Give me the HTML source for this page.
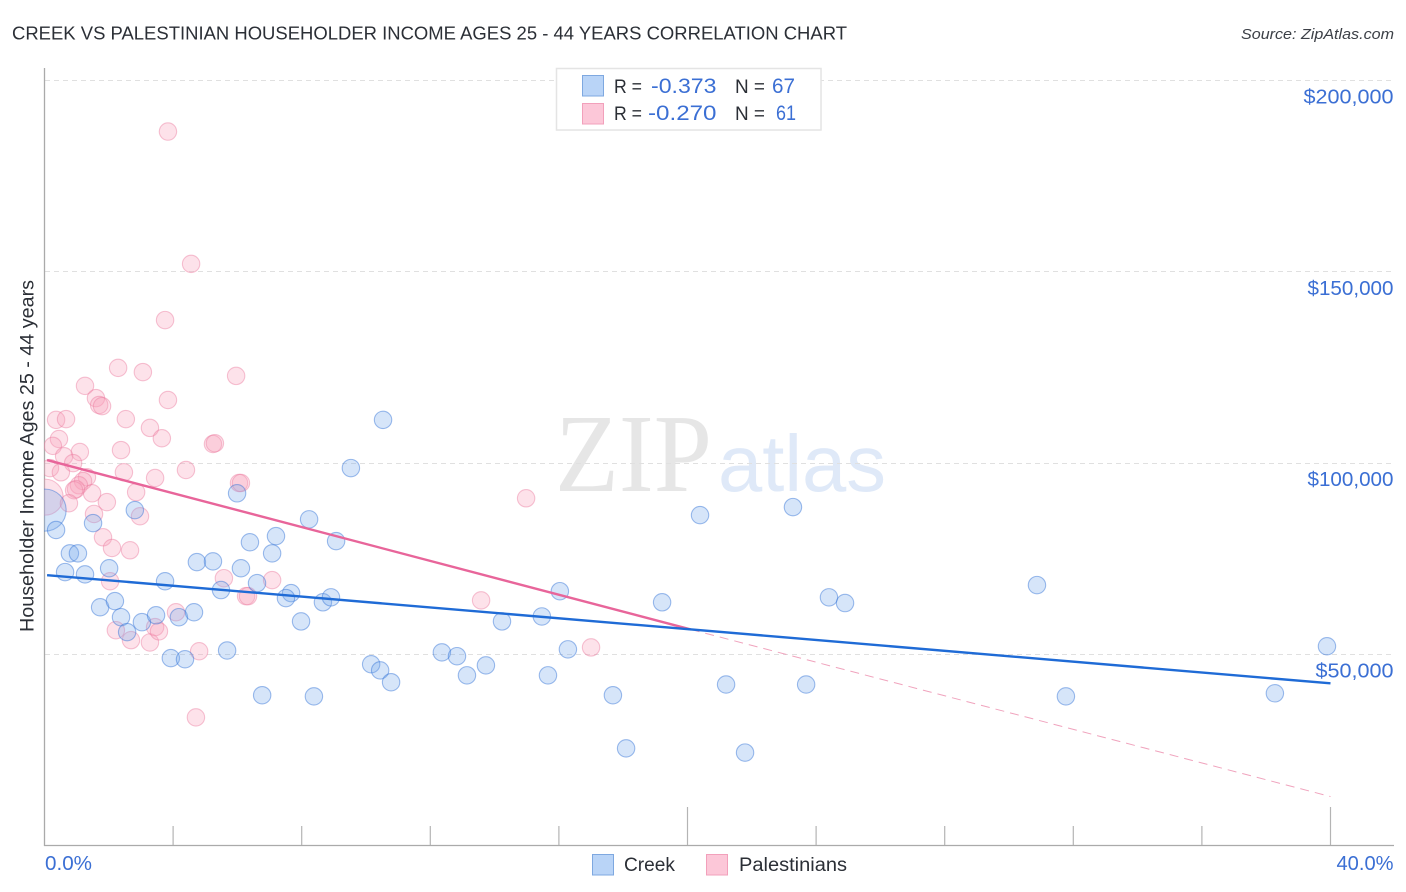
<!DOCTYPE html>
<html lang="en">
<head>
<meta charset="utf-8">
<title>Creek vs Palestinian Householder Income Chart</title>
<style>
html,body{margin:0;padding:0;background:#fff;}
svg{display:block;font-family:"Liberation Sans",sans-serif;}
</style>
</head>
<body>
<svg id="chart" xmlns="http://www.w3.org/2000/svg" width="1406" height="892" viewBox="0 0 1406 892">
  <defs>
    <clipPath id="plot-clip"><rect x="44" y="60" width="1350" height="785"/></clipPath>
  </defs>
  <rect x="0" y="0" width="1406" height="892" fill="#ffffff"/>
  <text x="12" y="39.5" font-size="18.5" fill="#2b2f36" textLength="835" lengthAdjust="spacingAndGlyphs">CREEK VS PALESTINIAN HOUSEHOLDER INCOME AGES 25 - 44 YEARS CORRELATION CHART</text>
  <text x="1394" y="39" font-size="15" font-style="italic" fill="#3c4047" text-anchor="end" textLength="153" lengthAdjust="spacingAndGlyphs">Source: ZipAtlas.com</text>

  <g>
    <text x="555" y="491" font-family="'Liberation Serif',serif" font-size="111" fill="#e6e6e6" textLength="157" lengthAdjust="spacingAndGlyphs">ZIP</text>
    <text x="718" y="491" font-size="80" fill="#dfe9f8" textLength="168" lengthAdjust="spacingAndGlyphs">atlas</text>
  </g>

  <g id="grid"></g>
  <g id="axes"></g>
  <g id="marks" clip-path="url(#plot-clip)"></g>
  <g id="trends"></g>
  <g id="ylabels"></g>

  <text transform="translate(33.5,456) rotate(-90)" font-size="19" fill="#2b2f36" text-anchor="middle" textLength="352" lengthAdjust="spacingAndGlyphs">Householder Income Ages 25 - 44 years</text>
  <text x="45" y="870" font-size="20" fill="#3b6fd4" textLength="47" lengthAdjust="spacingAndGlyphs">0.0%</text>
  <text x="1393.5" y="870" font-size="20" fill="#3b6fd4" text-anchor="end" textLength="57" lengthAdjust="spacingAndGlyphs">40.0%</text>

  <g>
    <rect x="556.5" y="68.5" width="264.5" height="61.5" fill="#ffffff" stroke="#e4e4e4" stroke-width="1.5"/>
    <rect x="582.5" y="75.5" width="21" height="20.5" fill="#b9d4f7" stroke="#7ea8e0" stroke-width="1"/>
    <rect x="582.5" y="103.5" width="21" height="20.5" fill="#fcc7d8" stroke="#f2a0bb" stroke-width="1"/>
    <text x="614" y="93" font-size="19" fill="#2b2f36" textLength="28" lengthAdjust="spacingAndGlyphs">R =</text>
    <text x="651" y="93" font-size="21" fill="#3b6fd4" textLength="65.5" lengthAdjust="spacingAndGlyphs">-0.373</text>
    <text x="735" y="93" font-size="19" fill="#2b2f36" textLength="30" lengthAdjust="spacingAndGlyphs">N =</text>
    <text x="772" y="93" font-size="21" fill="#3b6fd4" textLength="23" lengthAdjust="spacingAndGlyphs">67</text>
    <text x="614" y="120" font-size="19" fill="#2b2f36" textLength="28" lengthAdjust="spacingAndGlyphs">R =</text>
    <text x="648" y="120" font-size="21" fill="#3b6fd4" textLength="68.5" lengthAdjust="spacingAndGlyphs">-0.270</text>
    <text x="735" y="120" font-size="19" fill="#2b2f36" textLength="30" lengthAdjust="spacingAndGlyphs">N =</text>
    <text x="776" y="120" font-size="21" fill="#3b6fd4" textLength="20" lengthAdjust="spacingAndGlyphs">61</text>
  </g>

  <g>
    <rect x="592.5" y="854.5" width="21" height="20.5" fill="#b9d4f7" stroke="#7ea8e0" stroke-width="1"/>
    <text x="624" y="871" font-size="19" fill="#2b2f36" textLength="51" lengthAdjust="spacingAndGlyphs">Creek</text>
    <rect x="706.5" y="854.5" width="21" height="20.5" fill="#fcc7d8" stroke="#f2a0bb" stroke-width="1"/>
    <text x="739" y="871" font-size="19" fill="#2b2f36" textLength="108" lengthAdjust="spacingAndGlyphs">Palestinians</text>
  </g>
</svg>
<script>
const yTicks = [200000, 150000, 100000, 50000];
const yTickLabels = ["$200,000", "$150,000", "$100,000", "$50,000"];
const xTicks = [0, 4, 8, 12, 16, 20, 24, 28, 32, 36, 40];
const xMajorTicks = [20, 40];

const creekX = [0.02,0.36,0.79,1.04,0.64,1.26,2.01,1.51,2.81,3.75,1.73,2.19,2.38,2.57,3.03,3.47,4.18,4.65,4.74,5.24,5.49,6.11,6.39,7.2,7.08,6.61,7.67,7.51,8.23,9.07,9.53,10.53,5.99,7.98,8.66,8.91,3.93,4.37,5.68,6.77,8.38,10.16,10.44,10.78,12.36,12.83,13.14,13.73,14.23,15.47,16.03,16.28,15.66,17.68,18.09,19.21,20.39,21.2,21.79,23.28,23.69,24.4,24.9,30.87,31.77,38.27,39.89];
const creekY = [87.7,82.5,76.4,76.4,71.5,70.9,72.5,84.3,87.7,69.1,62.3,63.9,59.7,55.8,58.4,60.2,59.7,61,74.1,74.3,66.8,72.5,79.3,80.9,76.4,68.6,66,64.7,85.3,79.6,98.7,111.3,92.1,58.6,63.6,64.9,49,48.7,51,39.3,39,47.4,45.8,42.7,50.5,49.5,44.5,47.1,58.6,59.9,66.5,51.3,44.5,39.3,25.4,63.6,86.4,42.1,24.3,88.5,42.1,64.9,63.4,68.1,39,39.8,52.1];
const palestiniansX = [3.84,4.56,3.75,2.29,3.06,5.96,1.26,1.6,1.7,1.79,3.84,0.36,0.67,2.53,3.28,3.65,0.45,0.26,5.24,5.3,2.38,1.1,0.61,0.89,0.17,0.51,2.47,3.44,4.4,1.32,1.2,1.07,0.98,0.92,1.48,2.85,6.05,6.11,0.02,0.76,1.94,1.54,2.97,1.82,2.1,2.66,2.04,5.58,7.08,4.09,2.22,2.69,3.28,3.44,3.56,4.81,6.27,6.33,13.58,17,14.98,4.71];
const palestiniansY = [186.7,152.1,137.4,124.9,123.8,122.8,120.2,117,115.2,114.9,116.5,111.3,111.5,111.5,109.2,106.5,106.3,104.5,105,105.2,103.4,102.9,101.8,100,98.7,97.6,97.6,96.1,98.2,96.3,95.3,94.2,93.2,92.9,92.1,92.4,94.8,94.8,91.1,89.5,89.8,86.7,86.1,80.6,77.8,77.2,69.1,69.9,69.4,61,56.3,53.7,53.1,57.1,56,50.8,65.2,65.2,64.1,51.8,90.8,33.5];

const creekTrendX = [0.08, 40];
const creekTrendY = [70.7, 42.4];
const palestiniansTrendX = [0.08, 20.1];
const palestiniansTrendY = [100.8, 56.5];
const palestiniansDashX = [20.1, 40];
const palestiniansDashY = [56.5, 12.8];

const NS = "http://www.w3.org/2000/svg";
const xScale = function (pct) { return 44.5 + pct * 32.15; };
const yScale = function (usd) { return 654.3 - (usd - 50000) * 191.2 / 50000; };
const yK = function (k) { return yScale(k * 1000); };

function make(tag, attrs, parent) {
  const el = document.createElementNS(NS, tag);
  Object.keys(attrs).forEach(function (k) { el.setAttribute(k, attrs[k]); });
  parent.appendChild(el);
  return el;
}

const grid = document.getElementById("grid");
const axes = document.getElementById("axes");
const marks = document.getElementById("marks");
const trends = document.getElementById("trends");
const ylabels = document.getElementById("ylabels");

yTicks.forEach(function (t, i) {
  const gy = Math.floor(yScale(t)) + 0.5;
  const line = make("line", {x1: 45, x2: 1394, y1: gy, y2: gy, stroke: "#e0e0e0", "stroke-width": 1, "stroke-dasharray": "5 4"}, grid);
  
  
  const text = yTickLabels[i];
  const digits = text.replace(/[^0-9]/g, "").length;
  const ones = text.replace(/[^1]/g, "").length;
  const label = make("text", {x: 1393.5, y: yScale(t) + 23, "font-size": 20.5, fill: "#3b6fd4", "text-anchor": "end", textLength: 18 + 12 * digits - 4 * ones, lengthAdjust: "spacingAndGlyphs"}, ylabels);
  label.textContent = text;
  
  
});

const yAxis = make("line", {x1: 44.5, x2: 44.5, y1: 68, y2: 846, stroke: "#aaaaaa", "stroke-width": 1.3}, axes);


const xAxis = make("line", {x1: 44, x2: 1394, y1: 845.5, y2: 845.5, stroke: "#aaaaaa", "stroke-width": 1.3}, axes);



xTicks.forEach(function (t) {
  if (t === 0) return;
  const major = xMajorTicks.indexOf(t) >= 0;
  const tick = make("line", {x1: xScale(t), x2: xScale(t), y1: major ? 807 : 826, y2: 845, stroke: "#b4b4b4", "stroke-width": 1.2}, axes);
  
  
});

function drawSeries(xs, ys, fill, stroke, name, edgeRadius) {
  xs.forEach(function (x, i) {
    const r = x < 0.1 ? edgeRadius : 8.7;
    const c = make("circle", {cx: xScale(x), cy: yK(ys[i]), r: r, fill: fill, stroke: stroke, "stroke-width": 1.1}, marks);
    
    
  });
}
drawSeries(palestiniansX, palestiniansY, "rgba(247,160,185,0.3)", "rgba(236,125,160,0.45)", "palestinians-point", 18);
drawSeries(creekX, creekY, "rgba(120,170,235,0.3)", "rgba(50,115,215,0.47)", "creek-point", 21);

const dash = make("line", {x1: xScale(palestiniansDashX[0]), y1: yK(palestiniansDashY[0]), x2: xScale(palestiniansDashX[1]), y2: yK(palestiniansDashY[1]), stroke: "#f0a3bd", "stroke-width": 1, "stroke-dasharray": "9 6"}, trends);


const pinkLine = make("line", {x1: xScale(palestiniansTrendX[0]), y1: yK(palestiniansTrendY[0]), x2: xScale(palestiniansTrendX[1]), y2: yK(palestiniansTrendY[1]), stroke: "#e8659a", "stroke-width": 2.4}, trends);


const blueLine = make("line", {x1: xScale(creekTrendX[0]), y1: yK(creekTrendY[0]), x2: xScale(creekTrendX[1]), y2: yK(creekTrendY[1]), stroke: "#1f6bd6", "stroke-width": 2.4}, trends);


</script>
</body>
</html>
